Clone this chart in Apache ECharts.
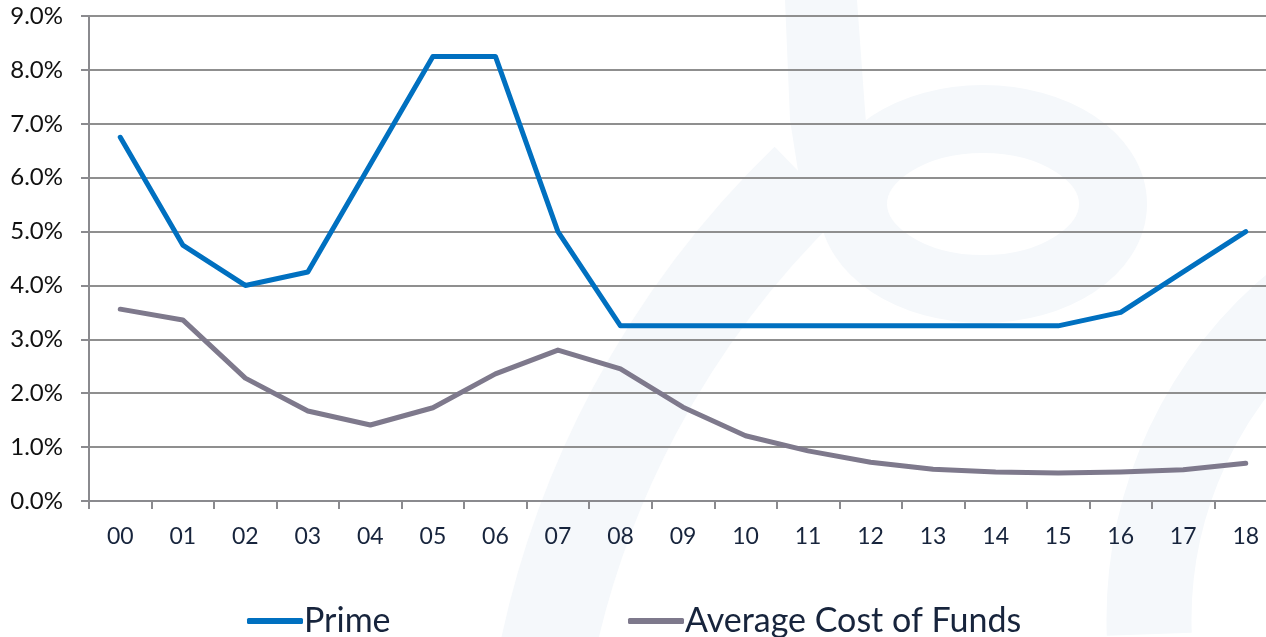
<!DOCTYPE html>
<html>
<head>
<meta charset="utf-8">
<script src="https://cdn.jsdelivr.net/npm/echarts@6/dist/echarts.min.js"></script>
<style>html,body{margin:0;padding:0;background:#fff;overflow:hidden;}#c{width:1277px;height:637px;}</style>
</head>
<body>
<div id="c"></div>
<script>
var categories = ['00','01','02','03','04','05','06','07','08','09','10','11','12','13','14','15','16','17','18'];
var prime = [6.75, 4.75, 4.0, 4.25, 6.25, 8.25, 8.25, 5.0, 3.25, 3.25, 3.25, 3.25, 3.25, 3.25, 3.25, 3.25, 3.5, 4.25, 5.0];
var costOfFunds = [3.56, 3.36, 2.28, 1.67, 1.41, 1.73, 2.36, 2.80, 2.45, 1.74, 1.21, 0.93, 0.72, 0.59, 0.54, 0.52, 0.54, 0.58, 0.70];
var seriesNames = ['Prime', 'Average Cost of Funds'];

var chart = echarts.init(document.getElementById('c'), null, {renderer: 'canvas'});
var wm = '#F5F8FB';
var legendText = {fontFamily: 'Lato', fontSize: 34, color: '#17243C', padding: [0, 0, 0, -4]};
chart.setOption({
  animation: false,
  backgroundColor: '#fff',
  graphic: [
    {type: 'polygon', z: -10, silent: true, shape: {points: [[785, 0], [857, 0], [865, 110], [870, 170], [805, 215], [790, 120]]}, style: {fill: wm}},
    {type: 'ellipse', z: -10, silent: true, shape: {cx: 983, cy: 204, rx: 130, ry: 85}, style: {stroke: wm, lineWidth: 68, fill: null}},
    {type: 'arc', z: -10, silent: true, shape: {cx: 1446, cy: 842, r: 919, startAngle: Math.PI * 190 / 180, endAngle: Math.PI * 226 / 180}, style: {stroke: wm, lineWidth: 95, fill: null}},
    {type: 'arc', z: -10, silent: true, shape: {cx: 1560, cy: 620, r: 411, startAngle: Math.PI * 178 / 180, endAngle: Math.PI * 232 / 180}, style: {stroke: wm, lineWidth: 85, fill: null}}
  ],
  grid: {left: 89, top: 16, right: 0, height: 485, containLabel: false},
  legend: [
    {left: 242, top: 599, itemWidth: 56, itemHeight: 6, icon: 'roundRect', textStyle: legendText, data: [seriesNames[0]]},
    {left: 623, top: 599, itemWidth: 56, itemHeight: 6, icon: 'roundRect', textStyle: legendText, data: [seriesNames[1]]}
  ],
  xAxis: {
    type: 'category', data: categories, boundaryGap: true,
    axisLine: {lineStyle: {color: '#8A8A8E', width: 2}},
    axisTick: {show: true, length: 8, lineStyle: {color: '#8A8A8E', width: 2}},
    axisLabel: {fontFamily: 'Lato', fontSize: 23, color: '#17243C', margin: 24}
  },
  yAxis: {
    type: 'value', min: 0, max: 9, interval: 1,
    axisLine: {show: true, lineStyle: {color: '#8A8A8E', width: 2}},
    axisTick: {show: true, length: 8, lineStyle: {color: '#8A8A8E', width: 2}},
    splitLine: {lineStyle: {color: '#8F8F8F', width: 2}},
    axisLabel: {fontFamily: 'Lato', fontSize: 24, color: '#111', margin: 26,
      formatter: function (v) { return v.toFixed(1) + '%'; }}
  },
  series: [
    {name: seriesNames[0], type: 'line', data: prime, symbol: 'none', smooth: false,
      lineStyle: {color: '#0070C0', width: 5, cap: 'round', join: 'round'}, itemStyle: {color: '#0070C0'}},
    {name: seriesNames[1], type: 'line', data: costOfFunds, symbol: 'none', smooth: false,
      lineStyle: {color: '#7E798C', width: 5, cap: 'round', join: 'round'}, itemStyle: {color: '#7E798C'}}
  ]
});
</script>
</body>
</html>
